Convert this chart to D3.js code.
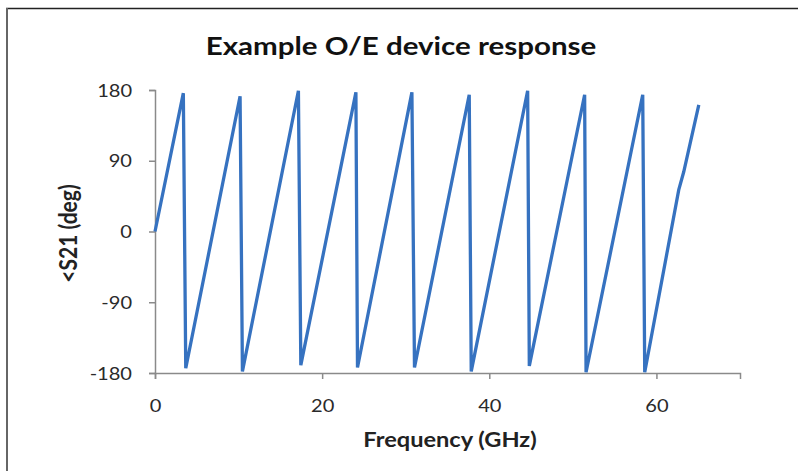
<!DOCTYPE html>
<html>
<head>
<meta charset="utf-8">
<script src="https://cdn.jsdelivr.net/npm/d3@7"></script>
<style>
  body { margin: 0; background: #fff; }
  svg { display: block; font-family: Lato, "Open Sans", sans-serif; }
</style>
</head>
<body>
<svg class="chart" width="798" height="471"></svg>
<script>
// phase of S21 (GHz, degrees)
const freq = [0, 3.39, 3.68, 10.18, 10.46, 17.16, 17.45, 24.04, 24.23, 30.74, 31.05,
  37.6, 37.84, 44.59, 44.79, 51.41, 51.58, 58.36, 58.6, 62.67, 63.27, 65.07]
const phase = [0, 176, -174, 172, -178, 179, -170, 177, -173, 177, -173,
  174, -178, 179, -171, 174, -179, 174, -179, 53, 76, 161]
const yTicks = [-180, -90, 0, 90, 180]
const xTicks = [0, 20, 40, 60]

// the source picture is a bit wide, so text gets stretched sideways
const stretch = 1.18

const svg = d3.select('.chart')
const width = +svg.attr('width')
const height = +svg.attr('height')

// picture frame (top and left edges only)
svg.append('line')
  .attr('x1', 6).attr('x2', width).attr('y1', 8.5).attr('y2', 8.5)
  .attr('stroke', '#222').attr('stroke-width', 1.5)
svg.append('line')
  .attr('x1', 7).attr('x2', 7).attr('y1', 8).attr('y2', height)
  .attr('stroke', '#666').attr('stroke-width', 2)

const x = d3.scaleLinear().domain([0, 70]).range([155, 740])
const y = d3.scaleLinear().domain([-180, 180]).range([373, 90])

const yAxis = svg.append('g')
  .attr('transform', `translate(${x(0)},0)`)
  .call(d3.axisLeft(y).tickValues(yTicks).tickFormat(d => String(d))
    .tickSize(6).tickPadding(13.5))
const xAxis = svg.append('g')
  .attr('transform', `translate(0,${y(-180)})`)
  .call(d3.axisBottom(x).tickValues(xTicks).tickFormat(d => String(d))
    .tickSize(6).tickPadding(21))

for (const ax of [yAxis, xAxis]) {
  ax.select('.domain').attr('stroke', '#8a8a8a').attr('stroke-width', 1.5)
  ax.selectAll('.tick line').attr('stroke', '#8a8a8a').attr('stroke-width', 1.5)
  ax.selectAll('.tick text').attr('font-size', 17).attr('fill', '#2a2a2a')
    .style('font-family', 'Lato, sans-serif')
    .attr('transform', `scale(${stretch},1)`)
}
yAxis.selectAll('.tick text').attr('dy', '0.36em')

const line = d3.line()
  .x((d, i) => x(freq[i]))
  .y(d => y(d))

svg.append('path')
  .datum(phase)
  .attr('d', line)
  .attr('fill', 'none')
  .attr('stroke', '#3672c0')
  .attr('stroke-width', 3.3)
  .attr('stroke-linejoin', 'miter')

svg.append('text')
  .attr('transform', `translate(401,55) scale(${stretch},1)`)
  .attr('text-anchor', 'middle')
  .attr('font-size', 25).attr('font-weight', 'bold')
  .attr('fill', '#111')
  .text('Example O/E device response')

svg.append('text')
  .attr('transform', `translate(77,${y(0) + 2}) scale(${stretch},1) rotate(-90)`)
  .attr('text-anchor', 'middle')
  .attr('font-size', 21).attr('font-weight', 'bold')
  .attr('fill', '#222')
  .text('<S21 (deg)')

svg.append('text')
  .attr('transform', `translate(450,447) scale(${stretch},1)`)
  .attr('text-anchor', 'middle')
  .attr('font-size', 20).attr('font-weight', 'bold')
  .attr('fill', '#222')
  .text('Frequency (GHz)')
</script>
</body>
</html>
